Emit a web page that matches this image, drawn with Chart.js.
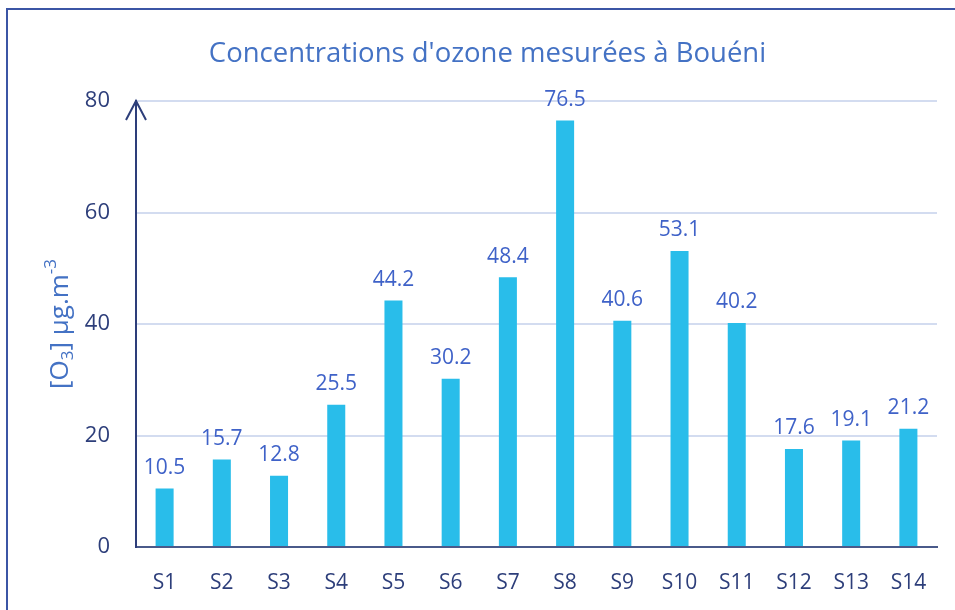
<!DOCTYPE html>
<html>
<head>
<meta charset="utf-8">
<script src="https://cdn.jsdelivr.net/npm/chart.js@4.4.1/dist/chart.umd.min.js"></script>
<style>
    html, body { margin: 0; padding: 0; background: #fff; overflow: hidden; }
    #cadre { position: absolute; left: 6px; top: 8px; width: 1000px; height: 700px; border: 2px solid #3b55a5; box-sizing: border-box; pointer-events: none; }
    #graf { position: absolute; left: 0; top: 0; }
</style>
</head>
<body>
<canvas id="graf" width="975" height="610"></canvas>
<div id="cadre"></div>
<script>
const sites = ["S1", "S2", "S3", "S4", "S5", "S6", "S7", "S8", "S9", "S10", "S11", "S12", "S13", "S14"];
const ozone = [10.5, 15.7, 12.8, 25.5, 44.2, 30.2, 48.4, 76.5, 40.6, 53.1, 40.2, 17.6, 19.1, 21.2];
const yTicks = [0, 20, 40, 60, 80];

const POLICE = "'Open Sans', 'Noto Sans', sans-serif";
const BLEU = "#4472c4";
const MARINE = "#2d3e7a";

// étiquettes de valeur au-dessus des barres
const etiquettes = {
    id: "etiquettes",
    afterDatasetsDraw(chart) {
        const ctx = chart.ctx;
        const meta = chart.getDatasetMeta(0);
        ctx.save();
        ctx.font = `21px ${POLICE}`;
        ctx.fillStyle = "#3f62c8";
        ctx.textAlign = "center";
        ctx.textBaseline = "bottom";
        meta.data.forEach((barre, i) => {
            ctx.fillText(ozone[i].toFixed(1), barre.x, barre.y - 10);
        });
        ctx.restore();
    },
};

// flèche en haut de l'axe y + titre de l'axe avec indice / exposant
const axeY = {
    id: "axeY",
    afterDraw(chart) {
        const ctx = chart.ctx;
        const a = chart.chartArea;
        ctx.save();
        ctx.strokeStyle = MARINE;
        ctx.lineWidth = 2;
        ctx.beginPath();
        ctx.moveTo(a.left - 10, a.top + 19);
        ctx.lineTo(a.left, a.top);
        ctx.lineTo(a.left + 10, a.top + 19);
        ctx.stroke();

        const morceaux = [
            { t: "[O", f: 26, dy: 0 },
            { t: "3", f: 17, dy: 7 },
            { t: "] µg.m", f: 26, dy: 0 },
            { t: "-3", f: 17, dy: -10 },
        ];
        let total = 0;
        morceaux.forEach((m) => {
            ctx.font = `${m.f}px ${POLICE}`;
            m.w = ctx.measureText(m.t).width;
            total += m.w;
        });
        ctx.translate(61, (a.top + a.bottom) / 2);
        ctx.rotate(-Math.PI / 2);
        ctx.fillStyle = BLEU;
        ctx.textBaseline = "middle";
        ctx.textAlign = "left";
        let x = -total / 2;
        morceaux.forEach((m) => {
            ctx.font = `${m.f}px ${POLICE}`;
            ctx.fillText(m.t, x, m.dy);
            x += m.w;
        });
        ctx.restore();
    },
};

new Chart(document.getElementById("graf"), {
    type: "bar",
    data: {
        labels: sites,
        datasets: [{ data: ozone, backgroundColor: "#29bdea", categoryPercentage: 1, barPercentage: 0.315 }],
    },
    options: {
        responsive: false,
        animation: false,
        layout: { padding: { left: 38, right: 38, top: 0, bottom: 0 } },
        plugins: {
            legend: { display: false },
            tooltip: { enabled: false },
            title: {
                display: true,
                text: "Concentrations d'ozone mesurées à Bouéni",
                color: BLEU,
                font: { family: POLICE, size: 27.5, weight: "normal" },
                padding: { top: 37.5, bottom: 30.5 },
            },
        },
        scales: {
            x: {
                afterFit: (s) => { s.height = 63; },
                grid: { display: false, drawTicks: false },
                border: { color: "#4a5a8a", width: 2 },
                ticks: { color: MARINE, font: { family: POLICE, size: 21 }, padding: 23 },
            },
            y: {
                min: 0,
                max: 80,
                afterBuildTicks: (s) => { s.ticks = yTicks.map((v) => ({ value: v })); },
                afterFit: (s) => { s.width = 98; },
                grid: { color: "#d3dcf0", lineWidth: 2, drawTicks: false },
                border: { color: MARINE, width: 2 },
                ticks: { color: MARINE, font: { family: POLICE, size: 22 }, padding: 26 },
            },
        },
    },
    plugins: [etiquettes, axeY],
});
</script>
</body>
</html>
